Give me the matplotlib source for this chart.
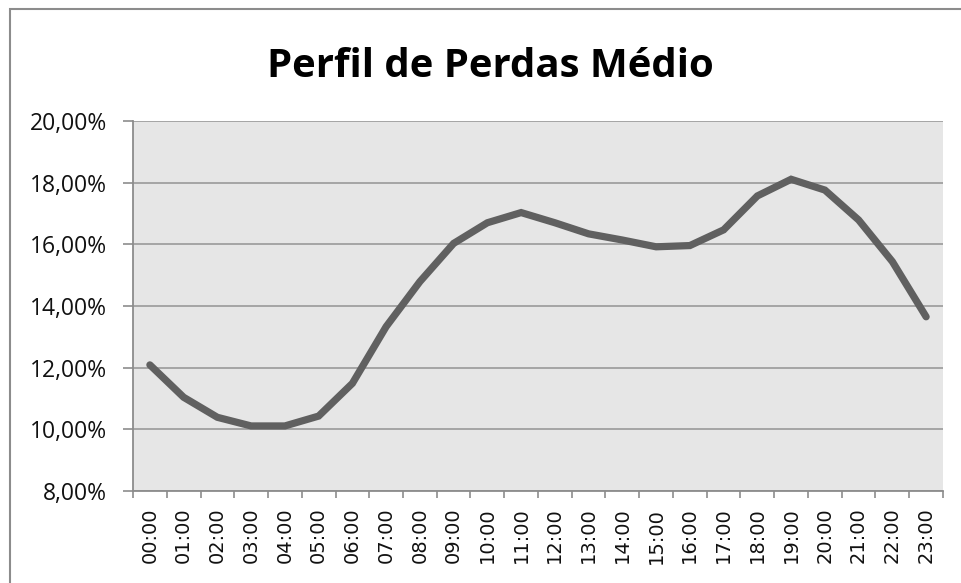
import matplotlib
matplotlib.use('Agg')
import matplotlib.pyplot as plt
import matplotlib.patches as pc
from matplotlib.ticker import FuncFormatter

# Average loss profile per hour (%)
hours = ['%02d:00' % h for h in range(24)]
losses = [12.09, 11.04, 10.39, 10.11, 10.11, 10.43, 11.49, 13.33,
          14.79, 16.03, 16.70, 17.03, 16.70, 16.34, 16.14, 15.92,
          15.96, 16.47, 17.57, 18.11, 17.76, 16.79, 15.44, 13.65]

title = 'Perfil de Perdas Médio'

W, H = 962, 583
fig = plt.figure(figsize=(W / 100, H / 100), dpi=100)
fig.patch.set_facecolor('white')

# outer chart frame (cut off at right and bottom like the screenshot)
fig.add_artist(pc.Rectangle((10 / W, -0.1), 1.2, (H - 9) / H + 0.1,
                            transform=fig.transFigure, fill=False,
                            edgecolor='#8c8c8c', linewidth=1.5))

left, right, top, bottom = 133, 943, 121, 491
ax = fig.add_axes([left / W, 1 - bottom / H, (right - left) / W, (bottom - top) / H])
ax.set_facecolor('#e6e6e6')

x = list(range(len(hours)))
ax.plot(x, losses, color='#606060', linewidth=5.2, solid_capstyle='round',
        solid_joinstyle='miter', zorder=3)

ax.set_xlim(-0.5, len(hours) - 0.5)
ax.set_ylim(8, 20)
ax.set_yticks([8, 10, 12, 14, 16, 18, 20])
ax.yaxis.set_major_formatter(FuncFormatter(lambda v, p: ('%.2f%%' % v).replace('.', ',')))
ax.grid(axis='y', color='#a0a0a0', linewidth=1.3, zorder=1)
ax.set_axisbelow(True)

ax.set_xticks([i + 0.5 for i in range(-1, len(hours))], minor=False)
ax.set_xticklabels([])
ax.set_xticks(x, minor=True)
ax.set_xticklabels(hours, minor=True, rotation=90, fontsize=14,
                   family='DejaVu Sans', color='#111111')
ax.tick_params(axis='x', which='minor', length=0, pad=12)
ax.tick_params(axis='x', which='major', length=5, color='#8c8c8c', width=1.2)
ax.tick_params(axis='y', length=7.2, color='#8c8c8c', width=1.2, pad=11.5,
               labelsize=16.5, labelcolor='#111111')
for lab in ax.get_yticklabels():
    lab.set_family('Open Sans')

for side in ['top', 'right']:
    ax.spines[side].set_visible(False)
for side in ['left', 'bottom']:
    ax.spines[side].set_color('#8c8c8c')
    ax.spines[side].set_linewidth(1.3)

fig.text(490 / W, 1 - 77 / H, title, ha='center', va='baseline',
         fontsize=28.9, fontweight='bold', family='Open Sans', color='black')

fig.savefig('out.png', dpi=100)
